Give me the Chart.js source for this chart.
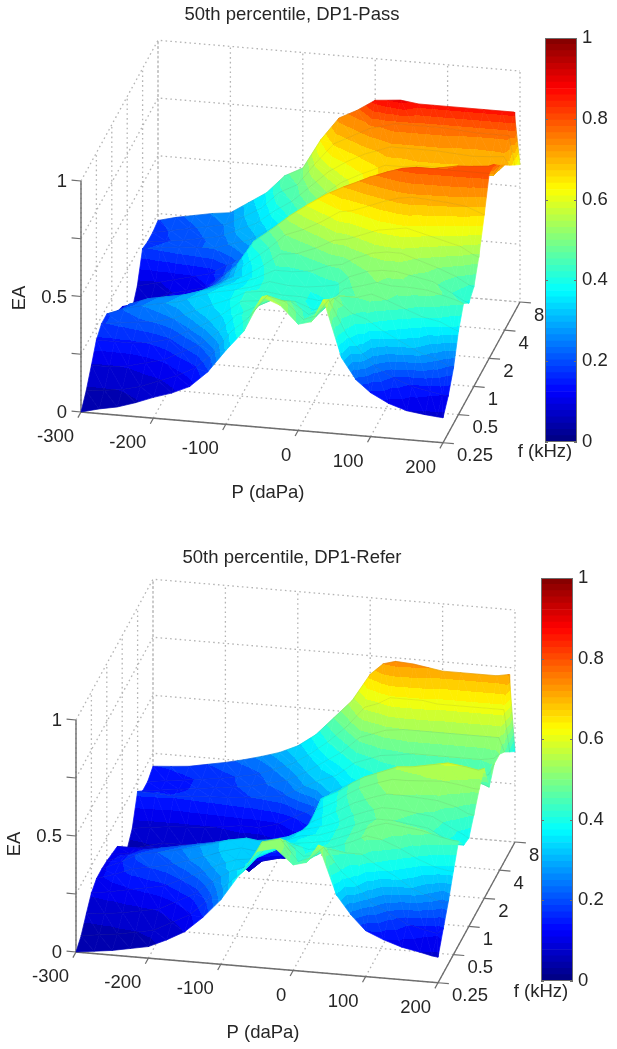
<!DOCTYPE html>
<html>
<head>
<meta charset="utf-8">
<title>50th percentile EA surfaces</title>
<script src="https://cdn.jsdelivr.net/npm/chart.js@4/dist/chart.umd.min.js"></script>
<style>
  html, body { margin: 0; padding: 0; background: #fff; }
  canvas { position: absolute; }
</style>
</head>
<body>
<canvas id="surfacePass" width="584" height="510" style="left:0;top:0"></canvas>
<canvas id="barPass" width="80" height="432" style="left:535px;top:24px"></canvas>
<canvas id="surfaceRefer" width="584" height="506" style="left:0;top:543px"></canvas>
<canvas id="barRefer" width="80" height="431" style="left:531px;top:564px"></canvas>
<script>
// Pressure steps (daPa) and third-octave frequencies (kHz) of the surfaces
const pressures = [-300, -275, -250, -225, -200, -175, -150, -125, -100, -75, -50, -25, 0, 18, 35, 60, 80, 100, 125, 150, 175, 192, 200];
const freqs = [0.25, 0.315, 0.4, 0.5, 0.63, 0.8, 1, 1.25, 1.6, 2, 2.5, 3.15, 4, 5, 6.3, 8];

// Tick labels
const pTicks = [-300, -200, -100, 0, 100, 200];
const fTicks = [0.25, 0.5, 1, 2, 4, 8];
const eaTicks = [0, 0.25, 0.5, 0.75, 1];
const eaTickLabels = ["0", "", "0.5", "", "1"];
const barTicks = [0, 0.2, 0.4, 0.6, 0.8, 1];

// EA: one line per pressure, one value per frequency
const eaPass = [
  [0, .05, .12, .19, .22, .22, .18, .15, .13, .08, .04, .10, .22, .21, .21, .22],
  [.02, .06, .12, .19, .23, .25, .23, .18, .15, .11, .08, .12, .23, .22, .225, .24],
  [.035, .07, .13, .19, .24, .27, .26, .20, .16, .14, .12, .14, .24, .23, .24, .255],
  [.06, .09, .15, .20, .25, .285, .275, .225, .18, .155, .14, .16, .245, .245, .255, .27],
  [.09, .12, .17, .22, .27, .30, .29, .25, .20, .17, .16, .18, .25, .26, .27, .28],
  [.115, .15, .21, .26, .305, .33, .315, .285, .25, .235, .22, .225, .275, .295, .31, .33],
  [.15, .19, .25, .30, .34, .355, .34, .32, .30, .305, .28, .27, .30, .33, .355, .38],
  [.22, .26, .31, .35, .37, .37, .36, .35, .37, .42, .37, .33, .35, .39, .43, .46],
  [.32, .36, .39, .41, .41, .39, .39, .40, .43, .48, .43, .38, .40, .44, .47, .50],
  [.41, .43, .43, .42, .42, .42, .43, .46, .50, .545, .48, .44, .46, .51, .57, .63],
  [.565, .53, .47, .43, .41, .41, .43, .47, .53, .60, .54, .50, .52, .58, .66, .73],
  [.535, .51, .47, .43, .41, .41, .44, .50, .57, .65, .60, .56, .58, .63, .70, .77],
  [.46, .44, .42, .40, .40, .42, .47, .54, .62, .69, .64, .60, .62, .67, .74, .82],
  [.475, .46, .44, .42, .41, .43, .48, .55, .63, .715, .67, .63, .645, .69, .755, .825],
  [.575, .535, .50, .47, .46, .47, .51, .57, .65, .74, .70, .66, .67, .71, .77, .83],
  [.33, .39, .44, .47, .48, .50, .54, .60, .68, .77, .72, .67, .67, .71, .77, .82],
  [.24, .32, .42, .49, .50, .51, .55, .61, .70, .79, .74, .68, .68, .71, .77, .82],
  [.19, .26, .38, .47, .49, .51, .55, .62, .71, .80, .75, .68, .68, .71, .77, .82],
  [.15, .22, .34, .44, .49, .495, .525, .60, .705, .80, .765, .69, .68, .705, .765, .82],
  [.125, .19, .30, .41, .485, .48, .50, .58, .70, .80, .78, .70, .68, .70, .76, .82],
  [.115, .175, .275, .395, .465, .44, .47, .56, .69, .80, .785, .705, .685, .705, .76, .82],
  [.11, .165, .25, .37, .45, .41, .44, .53, .67, .80, .79, .71, .69, .71, .76, .82],
  [.108, .16, .24, .36, .44, .40, .43, .52, .66, .80, .80, .755, .715, .675, .635, .595]
];

const eaRefer = [
  [0, .03, .085, .133, .155, .155, .15, .14, .13, .08, .04, .09, .207, .17, .17, .194],
  [.01, .04, .09, .145, .18, .19, .18, .15, .13, .09, .06, .10, .205, .18, .18, .20],
  [.02, .05, .10, .16, .21, .23, .21, .16, .13, .10, .08, .11, .20, .19, .19, .207],
  [.035, .065, .115, .175, .225, .245, .225, .175, .135, .10, .08, .115, .205, .20, .20, .222],
  [.05, .08, .13, .19, .24, .26, .24, .19, .14, .10, .08, .12, .21, .21, .21, .237],
  [.085, .12, .17, .225, .265, .28, .255, .20, .145, .09, .08, .13, .215, .22, .225, .255],
  [.127, .16, .21, .26, .29, .30, .27, .21, .15, .08, .08, .14, .22, .23, .24, .276],
  [.195, .23, .27, .30, .32, .325, .28, .20, .10, .03, .06, .14, .23, .25, .27, .30],
  [.278, .30, .32, .33, .34, .34, .29, .19, .12, .10, .10, .16, .24, .27, .30, .335],
  [.39, .37, .35, .34, .33, .33, .30, .22, .14, .10, .12, .20, .28, .31, .35, .39],
  [.50, .50, .44, .38, .35, .34, .32, .27, .21, .18, .18, .24, .32, .36, .41, .47],
  [.52, .52, .47, .42, .38, .37, .36, .35, .36, .37, .33, .32, .35, .41, .48, .55],
  [.455, .43, .41, .40, .39, .38, .38, .39, .40, .41, .36, .36, .41, .48, .57, .67],
  [.47, .45, .42, .41, .40, .40, .40, .42, .44, .45, .39, .38, .43, .50, .59, .72],
  [.55, .50, .45, .42, .42, .42, .43, .45, .47, .48, .41, .40, .45, .52, .62, .735],
  [.34, .40, .44, .45, .45, .45, .46, .48, .50, .51, .43, .42, .46, .53, .62, .73],
  [.26, .35, .44, .48, .48, .47, .48, .50, .52, .535, .44, .43, .47, .53, .62, .72],
  [.198, .28, .40, .47, .50, .47, .48, .50, .52, .54, .44, .43, .47, .53, .61, .71],
  [.165, .24, .36, .44, .49, .46, .47, .495, .525, .555, .455, .435, .47, .53, .61, .71],
  [.14, .20, .31, .40, .48, .45, .46, .49, .53, .57, .47, .44, .47, .53, .61, .71],
  [.125, .18, .28, .37, .46, .41, .42, .47, .52, .56, .465, .44, .47, .53, .61, .71],
  [.113, .17, .26, .36, .45, .39, .395, .445, .51, .55, .45, .45, .48, .53, .61, .72],
  [.11, .19, .27, .36, .448, .39, .38, .44, .51, .56, .44, .50, .50, .47, .43, .39]
];

const FONT = '"Liberation Sans", Arial, sans-serif';
const TEXT = "#262626";
const AXIS = "#6e6e6e";
const GRID = "#b4b4b4";
const BANDS = 32;

function jet(v) {
  const t = Math.max(0, Math.min(1, v)) * 4;
  const ramp = (d) => Math.round(255 * Math.max(0, Math.min(1, 1.5 - Math.abs(t - d))));
  return `rgb(${ramp(3)},${ramp(2)},${ramp(1)})`;
}

// the low end of the surface reads darker than its height, the crest a bit redder
function tone(ea) {
  if (ea < 0.3) return 0.05 + ea * ea * (0.25 / 0.09);
  if (ea > 0.8) return ea + (ea - 0.8) * 2;
  return ea;
}

function octaves(f) {
  return Math.log2(f / 0.25);
}

// axonometric view of (P, f, EA) onto the flat scatter scales
function project(view, p, fi, ea) {
  const steps = (p + 300) / 100;
  return {
    x: view.x0 + 72.4 * steps + 15.4 * fi,
    y: view.y0 + 6.15 * steps - 28.15 * fi - view.z * ea
  };
}

function lineSet(data, color, width, dash) {
  return {
    data, showLine: true, fill: false, pointRadius: 0,
    borderColor: color, borderWidth: width, borderDash: dash || [], borderCapStyle: "butt"
  };
}

// Colour of a triangle changes linearly across it, so one canvas gradient fits it exactly.
// Hard stops give the flat colour bands of the surface.
// The scatter scales run 1:1 with the canvas, so scale units work as gradient ends.
function facetPaint(chart, pts, vals) {
  const [p0, p1, p2] = pts;
  const [v0, v1, v2] = vals;
  const det = (p1.x - p0.x) * (p2.y - p0.y) - (p2.x - p0.x) * (p1.y - p0.y);
  const lo = Math.min(v0, v1, v2), hi = Math.max(v0, v1, v2);
  const band = (v) => jet((Math.floor(v * BANDS) + 0.5) / BANDS);
  if (Math.abs(det) < 0.01 || hi - lo < 0.001) return band((v0 + v1 + v2) / 3);
  const a = ((v1 - v0) * (p2.y - p0.y) - (v2 - v0) * (p1.y - p0.y)) / det;
  const b = ((p1.x - p0.x) * (v2 - v0) - (p2.x - p0.x) * (v1 - v0)) / det;
  const n = a * a + b * b;
  const g = chart.ctx.createLinearGradient(
    p0.x + (lo - v0) * a / n, p0.y + (lo - v0) * b / n,
    p0.x + (hi - v0) * a / n, p0.y + (hi - v0) * b / n);
  for (let l = Math.floor(lo * BANDS); l <= Math.floor(hi * BANDS); l++) {
    const from = Math.max(lo, l / BANDS), to = Math.min(hi, (l + 1) / BANDS);
    const color = jet((l + 0.5) / BANDS);
    g.addColorStop((from - lo) / (hi - lo), color);
    g.addColorStop((to - lo) / (hi - lo), color);
  }
  return g;
}

function facetSet(pts, vals) {
  const paint = (ctx) => facetPaint(ctx.chart, pts, vals);
  return {
    data: [...pts, pts[0]], showLine: true, fill: "shape", pointRadius: 0,
    backgroundColor: paint, borderColor: paint, borderWidth: 0.7, borderJoinStyle: "round"
  };
}

function surfaceSets(view, ea) {
  const sets = [];
  const at = (c, r) => project(view, pressures[c], octaves(freqs[r]), ea[c][r]);
  const val = (c, r) => tone(ea[c][r]);
  const dash = [1.6, 3.2];

  // walls and floor
  pTicks.forEach((p) => {
    sets.push(lineSet([project(view, p, 0, 0), project(view, p, 5, 0), project(view, p, 5, 1)], GRID, 1.3, dash));
  });
  fTicks.forEach((f) => {
    const fi = octaves(f);
    sets.push(lineSet([project(view, 200, fi, 0), project(view, -300, fi, 0), project(view, -300, fi, 1)], GRID, 1.3, dash));
  });
  eaTicks.forEach((z) => {
    sets.push(lineSet([project(view, -300, 0, z), project(view, -300, 5, z), project(view, 200, 5, z)], GRID, 1.3, dash));
  });

  // axes with their ticks
  sets.push(lineSet([project(view, -300, 0, 1), project(view, -300, 0, 0), project(view, 200, 0, 0), project(view, 200, 5, 0)], AXIS, 1.4));
  pTicks.forEach((p) => sets.push(lineSet([project(view, p, 0, 0), project(view, p, -0.2, 0)], AXIS, 1.2)));
  fTicks.forEach((f) => sets.push(lineSet([project(view, 200, octaves(f), 0), project(view, 215, octaves(f), 0)], AXIS, 1.2)));
  eaTicks.forEach((z) => sets.push(lineSet([project(view, -300, 0, z), project(view, -313, 0, z)], AXIS, 1.2)));

  // facets, far corner first so the nearer ones cover them
  for (let r = freqs.length - 1; r > 0; r--) {
    for (let c = 0; c < pressures.length - 1; c++) {
      const a = at(c, r), b = at(c + 1, r), d = at(c + 1, r - 1), e = at(c, r - 1);
      sets.push(facetSet([a, b, d], [val(c, r), val(c + 1, r), val(c + 1, r - 1)]));
      sets.push(facetSet([a, d, e], [val(c, r), val(c + 1, r - 1), val(c, r - 1)]));
    }
    sets.push(lineSet(pressures.map((p, c) => at(c, r)), "rgba(60,60,30,0.12)", 0.8));
  }
  // the first dataset ends up on top in Chart.js, so hand them over reversed
  return sets.reverse();
}

// tick and axis labels sit in the picture's own places around the box
const axisText = {
  id: "axisText",
  afterDatasetsDraw(chart, args, opts) {
    const { ctx, scales } = chart;
    const view = opts.view;
    const put = (text, pos, dx, dy, align) => {
      ctx.textAlign = align;
      ctx.fillText(text, scales.x.getPixelForValue(pos.x) + dx, scales.y.getPixelForValue(pos.y) + dy);
    };
    ctx.save();
    ctx.font = `18.5px ${FONT}`;
    ctx.fillStyle = TEXT;
    ctx.textBaseline = "middle";
    pTicks.forEach((p) => put(String(p), project(view, p, 0, 0), -7, 25, "right"));
    fTicks.forEach((f) => put(String(f), project(view, 200, octaves(f), 0), 14, 13.5, "left"));
    eaTicks.forEach((z, i) => put(eaTickLabels[i], project(view, -300, 0, z), -14, 1, "right"));
    ctx.textAlign = "center";
    ctx.fillText("P (daPa)", view.pLabel.x, view.pLabel.y);
    ctx.fillText("f (kHz)", view.fLabel.x, view.fLabel.y);
    ctx.translate(view.eaLabel.x, view.eaLabel.y);
    ctx.rotate(-Math.PI / 2);
    ctx.fillText("EA", 0, 0);
    ctx.restore();
  }
};

function surfaceChart(id, title, view, ea) {
  const canvas = document.getElementById(id);
  return new Chart(canvas, {
    type: "scatter",
    data: { datasets: surfaceSets(view, ea) },
    plugins: [axisText],
    options: {
      responsive: false,
      animation: false,
      layout: { padding: 0 },
      scales: {
        x: { type: "linear", min: 0, max: canvas.width, display: false },
        y: { type: "linear", min: 30, max: canvas.height, reverse: true, display: false }
      },
      plugins: {
        legend: { display: false },
        tooltip: { enabled: false },
        title: {
          display: true, text: title, color: TEXT,
          font: { family: FONT, size: 18.5, weight: "normal", lineHeight: "20px" },
          padding: { top: 5, bottom: 5 }
        },
        axisText: { view }
      }
    }
  });
}

// inner tick marks and frame of the colour bar
const barFrame = {
  id: "barFrame",
  afterDatasetsDraw(chart) {
    const { ctx, chartArea: a, scales } = chart;
    ctx.save();
    ctx.strokeStyle = AXIS;
    ctx.lineWidth = 1;
    ctx.strokeRect(a.left + 0.5, a.top + 0.5, a.width - 1, a.height - 1);
    barTicks.forEach((v) => {
      const y = Math.round(scales.y.getPixelForValue(v)) + 0.5;
      ctx.beginPath();
      ctx.moveTo(a.left, y); ctx.lineTo(a.left + 3, y);
      ctx.moveTo(a.right - 3, y); ctx.lineTo(a.right, y);
      ctx.stroke();
    });
    ctx.restore();
  }
};

function colorBar(id) {
  const levels = Array.from({ length: 64 }, (_, i) => i);
  return new Chart(document.getElementById(id), {
    type: "bar",
    data: {
      labels: ["EA"],
      datasets: levels.map((i) => ({
        data: [1 / 64],
        backgroundColor: jet((i + 0.5) / 64),
        borderWidth: 0,
        barPercentage: 1,
        categoryPercentage: 1
      }))
    },
    plugins: [barFrame],
    options: {
      responsive: false,
      animation: false,
      layout: { padding: { left: 10, top: 14, bottom: 14, right: 0 } },
      scales: {
        x: { stacked: true, display: false },
        y: {
          stacked: true, position: "right", min: 0, max: 1,
          afterFit: (s) => { s.width = 38; s.paddingTop = 0; s.paddingBottom = 0; },
          grid: { display: false, drawTicks: false },
          border: { display: false },
          ticks: {
            stepSize: 0.2, padding: 5, color: TEXT,
            font: { family: FONT, size: 18.5 },
            callback: (v) => String(+v.toFixed(1))
          }
        }
      },
      plugins: { legend: { display: false }, tooltip: { enabled: false } }
    }
  });
}

surfaceChart("surfacePass", "50th percentile, DP1-Pass", {
  x0: 81, y0: 412, z: 231,
  pLabel: { x: 268, y: 493 }, fLabel: { x: 545, y: 452 }, eaLabel: { x: 20, y: 298 }
}, eaPass);

surfaceChart("surfaceRefer", "50th percentile, DP1-Refer", {
  x0: 76, y0: 409, z: 232,
  pLabel: { x: 263, y: 490 }, fLabel: { x: 541, y: 449 }, eaLabel: { x: 15, y: 301 }
}, eaRefer);

colorBar("barPass");
colorBar("barRefer");
</script>
</body>
</html>
